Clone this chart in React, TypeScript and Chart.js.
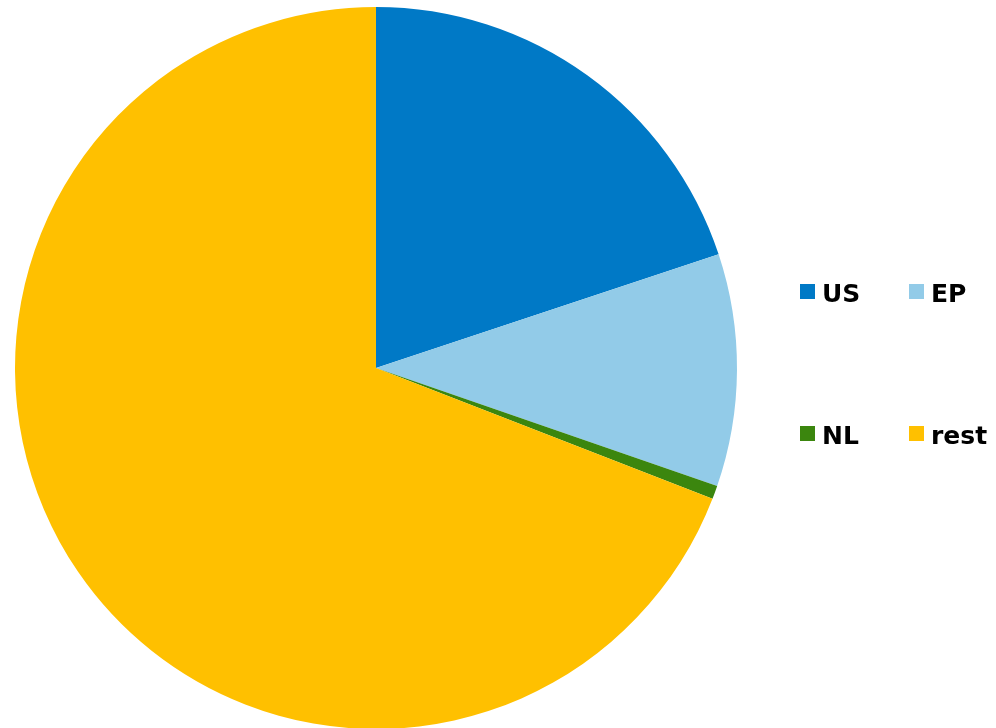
import { useEffect, useRef } from 'react';
import { Chart, PieController, ArcElement } from 'chart.js';

Chart.register(PieController, ArcElement);

const labels = ['US', 'EP', 'NL', 'rest'];
const shares = [19.9, 10.4, 0.6, 69.1];
const colors = ['#0079C6', '#92CBE8', '#3B860E', '#FFC000'];

// legend slots: [left of swatch, top of swatch, top of text]
const legendPos = [
  [800, 284, 281],
  [909, 284, 281],
  [800, 426, 423],
  [909, 426, 423],
];

export default function App() {
  const canvasRef = useRef<HTMLCanvasElement>(null);

  useEffect(() => {
    document.body.style.margin = '0';
    if (!canvasRef.current) return;
    const chart = new Chart(canvasRef.current, {
      type: 'pie',
      data: {
        labels,
        datasets: [{ data: shares, backgroundColor: colors, borderWidth: 0 }],
      },
      options: {
        responsive: false,
        animation: false,
        events: [],
        layout: { padding: { left: 15, top: 7, right: 259, bottom: 1 } },
        plugins: { legend: { display: false }, tooltip: { enabled: false } },
      },
    });
    return () => chart.destroy();
  }, []);

  return (
    <div style={{ position: 'relative', width: 996, height: 728, overflow: 'hidden', background: '#fff' }}>
      <canvas ref={canvasRef} width={996} height={730} style={{ position: 'absolute', left: 0, top: 0 }} />
      {labels.map((label, i) => (
        <div key={label}>
          <span
            style={{
              position: 'absolute',
              left: legendPos[i][0],
              top: legendPos[i][1],
              width: 15,
              height: 15,
              background: colors[i],
            }}
          />
          <span
            style={{
              position: 'absolute',
              left: legendPos[i][0] + 22,
              top: legendPos[i][2],
              font: 'bold 25px "DejaVu Sans"',
              lineHeight: '25px',
              color: '#000',
              whiteSpace: 'nowrap',
            }}
          >
            {label}
          </span>
        </div>
      ))}
    </div>
  );
}
